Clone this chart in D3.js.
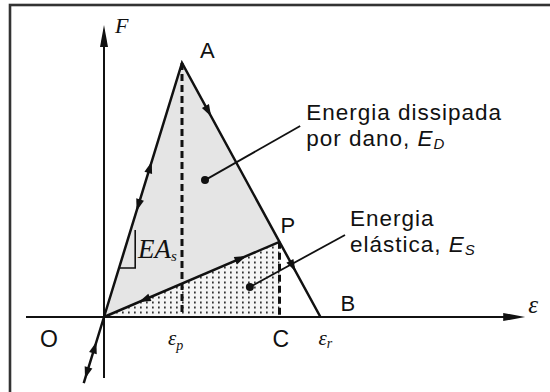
<!DOCTYPE html>
<html>
<head>
<meta charset="utf-8">
<script src="https://cdn.jsdelivr.net/npm/d3@7"></script>
<style>
  html, body { margin: 0; padding: 0; background: #fff; }
  svg { display: block; }
  .sans { font-family: "Liberation Sans", Arial, Helvetica, sans-serif; fill: #111; }
  .serif { font-family: "Liberation Serif", "Times New Roman", serif; font-style: italic; fill: #111; }
</style>
</head>
<body>
<svg id="chart" width="550" height="392"></svg>
<script>
// Key points of the force–strain cycle (strain, force)
const pointNames  = ["O", "A", "P", "C", "B", "L"];
const strainVals  = [0, 2, 4.5, 4.5, 5.55, -0.52];
const forceVals   = [0, 10, 2.96, 0, 0, -2.6];

// Axis extents in strain / force units
const strainExtent = [-2, 10.8];
const forceExtent  = [-2.4, 11.5];

// Annotation leaders: [dot strain, dot force, end strain, end force]
const leaderED = [2.59, 5.39, 5.03, 7.52];
const leaderES = [3.74, 1.18, 6.18, 3.23];

// Flow arrows along the path: [from, to, fraction]
const flowArrows = [
  ["O", "A", 0.59], ["A", "O", 0.56],
  ["A", "B", 0.19], ["A", "B", 0.80],
  ["O", "P", 0.78], ["P", "O", 0.77],
  ["L", "O", 0.54], ["O", "L", 0.85]
];

const textED = ["Energia dissipada", "por dano, ", "E", "D"];
const textES = ["Energia", "elástica, ", "E", "S"];

const P = {};
pointNames.forEach((n, i) => P[n] = [strainVals[i], forceVals[i]]);

const svg = d3.select("#chart");
const x = d3.scaleLinear().domain([0, 10]).range([104, 494]);
const y = d3.scaleLinear().domain([0, 10]).range([317, 63]);
const px = p => [x(p[0]), y(p[1])];

// Frame
svg.append("rect").attr("x", 10).attr("y", 5).attr("width", 560).attr("height", 400)
  .attr("fill", "none").attr("stroke", "#333").attr("stroke-width", 2.6);

// Dotted pattern for the elastic energy area
const defs = svg.append("defs");
const pat = defs.append("pattern").attr("id", "dots").attr("patternUnits", "userSpaceOnUse")
  .attr("width", 6).attr("height", 5);
pat.append("rect").attr("width", 6).attr("height", 5).attr("fill", "#f5f5f5");
pat.append("rect").attr("x", 2).attr("y", 1.5).attr("width", 1.7).attr("height", 2).attr("fill", "#333");

const line = d3.line().x(d => x(d[0])).y(d => y(d[1]));

// Dissipated energy (O-A-P) and elastic energy (O-P-C)
svg.append("path").attr("d", line([P.O, P.A, P.P]) + "Z").attr("fill", "#e5e5e5");
svg.append("path").attr("d", line([P.O, P.P, P.C]) + "Z").attr("fill", "url(#dots)");

// Dashed projections
[[P.A, [P.A[0], 0]], [P.P, P.C]].forEach(seg => {
  svg.append("path").attr("d", line(seg)).attr("stroke", "#111").attr("stroke-width", 3)
    .attr("stroke-dasharray", "7,4").attr("fill", "none");
});

// Axes
svg.append("path").attr("d", line([[strainExtent[0], 0], [strainExtent[1] - 0.3, 0]]))
  .attr("stroke", "#111").attr("stroke-width", 2);
svg.append("path").attr("d", line([[0, forceExtent[0]], [0, forceExtent[1] - 0.3]]))
  .attr("stroke", "#111").attr("stroke-width", 2);

function arrowHead(tip, dir, len, wid) {
  const n = [-dir[1], dir[0]];
  const b = [tip[0] - dir[0] * len, tip[1] - dir[1] * len];
  return [tip, [b[0] + n[0] * wid / 2, b[1] + n[1] * wid / 2], [b[0] - n[0] * wid / 2, b[1] - n[1] * wid / 2]];
}
const poly = pts => "M" + pts.map(p => p.join(",")).join("L") + "Z";

svg.append("path").attr("d", poly(arrowHead([x(strainExtent[1]), y(0)], [1, 0], 22, 8))).attr("fill", "#111");
svg.append("path").attr("d", poly(arrowHead([x(0), y(forceExtent[1])], [0, -1], 22, 8))).attr("fill", "#111");

// Loading / softening / unloading path
svg.append("path").attr("d", line([P.L, P.O, P.A, P.B])).attr("fill", "none")
  .attr("stroke", "#111").attr("stroke-width", 2.5).attr("stroke-linejoin", "miter");
svg.append("path").attr("d", line([P.O, P.P])).attr("fill", "none")
  .attr("stroke", "#111").attr("stroke-width", 2.5);

// Slope triangle EA_s
const yTri = y(1.93);
const xHyp = x(1.93 / 5);
svg.append("path").attr("d", `M${xHyp},${yTri}L${x(0.8)},${yTri}L${x(0.8)},${y(3.43)}`)
  .attr("fill", "none").attr("stroke", "#111").attr("stroke-width", 1.6);

// Flow arrows
flowArrows.forEach(([a, b, t]) => {
  const p0 = px(P[a]), p1 = px(P[b]);
  const dx = p1[0] - p0[0], dy = p1[1] - p0[1], L = Math.hypot(dx, dy);
  const dir = [dx / L, dy / L];
  const c = [p0[0] + dx * t, p0[1] + dy * t];
  const tip = [c[0] + dir[0] * 6, c[1] + dir[1] * 6];
  svg.append("path").attr("d", poly(arrowHead(tip, dir, 12, 8))).attr("fill", "#111");
});

// Leaders with dots
[leaderED, leaderES].forEach(l => {
  svg.append("line").attr("x1", x(l[0])).attr("y1", y(l[1])).attr("x2", x(l[2])).attr("y2", y(l[3]))
    .attr("stroke", "#111").attr("stroke-width", 1.8);
  svg.append("circle").attr("cx", x(l[0])).attr("cy", y(l[1])).attr("r", 4).attr("fill", "#111");
});

// Point labels
const lab = (txt, xx, yy, size) => svg.append("text").attr("class", "sans")
  .attr("x", xx).attr("y", yy).attr("font-size", size).text(txt);
lab("A", x(P.A[0]) + 18, y(P.A[1]) - 5, 22);
lab("P", x(P.P[0]) + 1, y(P.P[1]) - 9, 22);
lab("B", x(P.B[0]) + 20, y(P.B[1]) - 6, 22);
lab("O", x(P.O[0]) - 64, y(P.O[1]) + 30, 23);
lab("C", x(P.C[0]) - 7, y(P.C[1]) + 30, 23);

// Greek / math labels
function mathLabel(xx, yy, main, sub, size, subSize, shift) {
  const t = svg.append("text").attr("class", "serif").attr("x", xx).attr("y", yy).attr("font-size", size);
  t.append("tspan").text(main);
  if (sub) t.append("tspan").attr("font-size", subSize).attr("dy", shift).text(sub);
  return t;
}
mathLabel(x(P.A[0]) - 14, y(0) + 28, "ε", "p", 21, 14, 5);
mathLabel(x(P.B[0]) - 2, y(0) + 28, "ε", "r", 21, 14, 3);
mathLabel(x(strainExtent[1]) + 3, y(0) - 4, "ε", null, 25);
mathLabel(x(0) + 11, y(forceExtent[1]) + 8, "F", null, 22);
mathLabel(x(0.87), y(2.34), "EA", "s", 27, 15, 3);

// Energy annotations: two lines in one text block
function energyText(xx, yy, parts) {
  const t = svg.append("text").attr("class", "sans").attr("x", xx).attr("y", yy)
    .attr("font-size", 22.5).attr("letter-spacing", 1);
  t.append("tspan").attr("x", xx).attr("y", yy).text(parts[0]);
  t.append("tspan").attr("x", xx).attr("y", yy + 26).text(parts[1]);
  t.append("tspan").attr("font-style", "italic").text(parts[2]);
  t.append("tspan").attr("font-style", "italic").attr("font-size", 15).attr("dy", 3).text(parts[3]);
}
energyText(x(leaderED[2]) + 6, y(leaderED[3]) - 6, textED);
energyText(x(leaderES[2]) + 5, y(leaderES[3]) - 9, textES);
</script>
</body>
</html>
